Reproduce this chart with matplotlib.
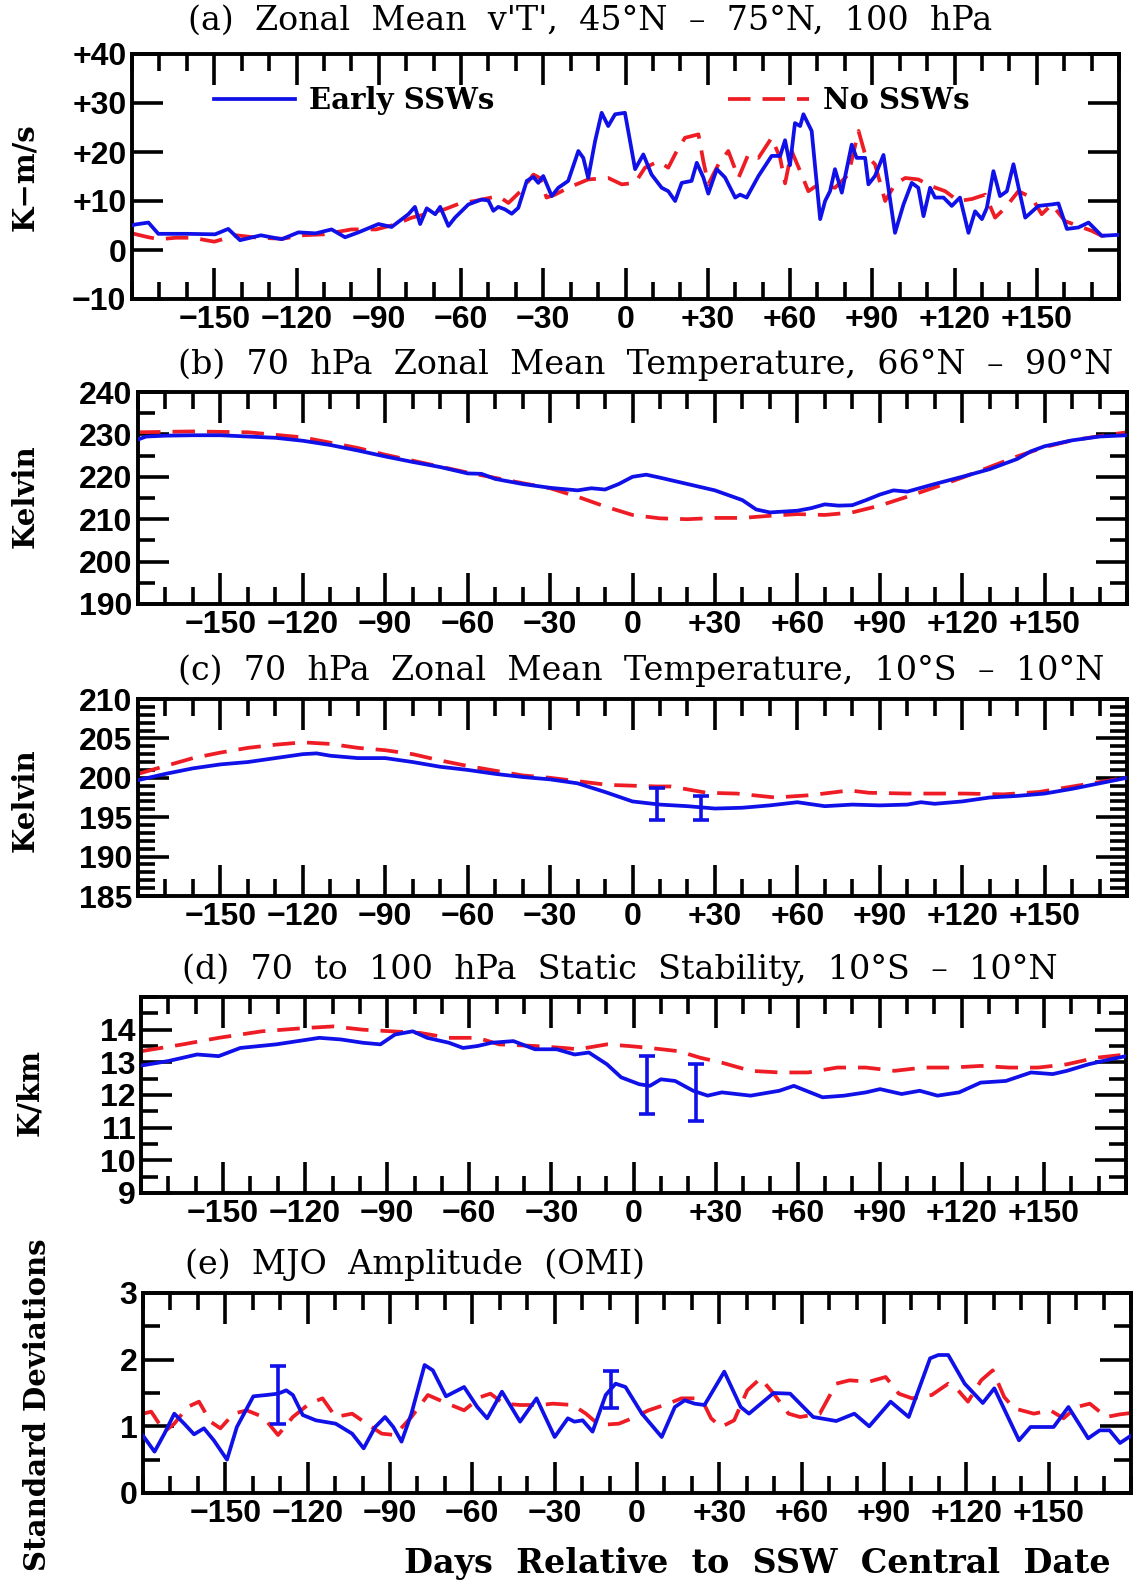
import matplotlib
matplotlib.use("Agg")
import matplotlib.pyplot as plt
from matplotlib.ticker import MultipleLocator

W, H = 1146, 1587
BLUE = '#1010e8'
RED = '#ee1c24'

# (a) zonal mean v'T', 45N-75N, 100 hPa
a_blue_day = [-180, -178.9, -174, -170.4, -160, -149.7, -144.9, -140.6, -133, -125.4, -119.3, -113, -107.2,
              -102.3, -97.4, -90.1, -85.3, -79.2, -76.8, -74.9, -72.5, -69.4, -67.6, -64.6, -62.2, -57.3,
              -52.5, -50, -48.2, -46.4, -44, -41.5, -39.1, -36, -33.6, -31.8, -30, -26.9, -24.5, -20.9,
              -17.2, -15.4, -13.6, -11.1, -8.7, -6.3, -3.8, -0.2, 3.5, 6.5, 9.5, 13.2, 15.6, 18.1, 20.5,
              24.1, 26, 28.4, 30.2, 33.3, 36.3, 40, 41.8, 44.2, 48.5, 53.3, 56.4, 58.2, 60, 61.8, 63.7,
              64.9, 67.9, 71, 72.8, 74.6, 76.4, 78.9, 82.5, 84.3, 87.4, 88.6, 91, 94.1, 98.3, 101.4,
              104.4, 106.8, 108.7, 111.1, 112.9, 116, 119, 122, 125.1, 127.5, 130, 131.8, 134.2, 136.6,
              139.1, 141.5, 145.8, 150.6, 155.5, 157.9, 161, 165.2, 168.9, 173.7, 180]
a_blue = [5.0, 5.2, 5.6, 3.3, 3.3, 3.2, 4.3, 2.0, 3.0, 2.2, 3.6, 3.4, 4.2,
          2.6, 3.6, 5.3, 4.7, 7.3, 8.8, 5.3, 8.5, 7.3, 8.8, 4.9, 6.6, 9.3,
          10.3, 10.1, 8.0, 8.8, 8.3, 7.4, 8.6, 14.1, 14.9, 13.7, 15.1, 11.0, 12.7, 14.1,
          20.2, 18.8, 14.7, 22.2, 28.0, 25.3, 27.7, 28.0, 16.5, 19.5, 15.4, 12.7, 12.0, 10.0, 13.7,
          14.1, 17.8, 14.8, 11.5, 16.5, 14.8, 10.7, 11.3, 10.7, 15.1, 19.2, 19.2, 22.4, 17.3, 25.9, 25.3,
          27.7, 24.3, 6.3, 10.0, 12.0, 16.5, 11.7, 21.5, 18.8, 18.8, 13.4, 15.1, 19.4, 3.5, 9.3,
          13.7, 12.7, 6.9, 12.7, 10.7, 10.7, 9.0, 10.7, 3.5, 7.9, 6.3, 8.6, 16.1, 11.0,
          12.0, 17.5, 6.6, 9.0, 9.3, 9.5, 4.3, 4.6, 5.6, 2.9, 3.1]
a_red_day = [-180, -174, -170, -164, -158, -150, -142, -134, -125, -118, -110, -100, -91, -84, -78, -73,
             -66, -60, -55, -46.4, -42.7, -37.9, -33.6, -31.2, -28.8, -25.7, -20.9, -13.6, -6.3, -1.4,
             3.5, 7.1, 12, 15.6, 18.7, 21.7, 26.6, 28.4, 30.2, 33.9, 37.5, 41.2, 44.8, 48.5, 53.3, 56.4,
             58.2, 60.6, 63.7, 66.7, 70.4, 76.4, 81.3, 85, 87.4, 91, 94.7, 98.3, 102, 106.8, 111.7,
             116.6, 121.4, 126.3, 131.2, 134.8, 138.5, 143.3, 148.2, 151.8, 155.5, 160.3, 165.2, 170.1,
             173.7, 180]
a_red = [3.4, 2.6, 2.2, 2.5, 2.5, 1.7, 3.0, 2.5, 2.3, 3.0, 3.2, 4.2, 4.2, 5.2, 6.6, 7.3,
         8.3, 9.6, 10.0, 11.0, 9.6, 12.2, 15.4, 14.7, 10.7, 11.3, 12.7, 14.4, 14.7, 13.4,
         13.7, 16.8, 18.1, 16.8, 20.2, 22.9, 23.6, 18.1, 13.4, 17.5, 20.2, 14.7, 19.5, 18.8, 22.9, 18.8,
         13.6, 20.2, 16.1, 12.0, 13.4, 12.7, 15.4, 24.3, 19.5, 17.5, 10.0, 13.4, 14.7, 14.4, 13.0,
         12.0, 10.0, 10.4, 11.3, 6.6, 8.6, 12.0, 10.7, 7.3, 9.3, 5.9, 4.9, 3.9,
         2.9, 3.1]

# (b) 70 hPa zonal mean temperature, 66N-90N
b_blue_day = [-180, -177, -170, -160, -150, -140, -130, -120, -110, -100, -90, -80, -70, -60, -55, -50,
              -40, -30, -20, -15, -10, -5, 0, 5, 10, 20, 30, 40, 45, 50, 60, 65, 70, 75, 80, 85, 90,
              95, 100, 110, 120, 130, 140, 145, 150, 160, 170, 180]
b_blue = [228.8, 229.5, 229.7, 229.8, 229.8, 229.5, 229.2, 228.5, 227.5, 226.2, 224.8, 223.5, 222.3,
          220.8, 220.7, 219.5, 218.3, 217.4, 216.8, 217.3, 217.0, 218.3, 220.0, 220.5, 219.8, 218.3,
          216.8, 214.5, 212.3, 211.6, 212.0, 212.6, 213.5, 213.2, 213.3, 214.5, 215.8, 216.8, 216.5,
          218.3, 220.0, 221.8, 224.2, 226.0, 227.2, 228.6, 229.5, 229.8]
b_red_day = [-180, -160, -140, -120, -100, -90, -80, -60, -40, -30, -20, -10, 0, 10, 20, 30, 40, 50,
             60, 70, 80, 90, 100, 110, 120, 130, 140, 150, 160, 170, 180]
b_red = [230.5, 230.7, 230.5, 229.3, 226.8, 225.2, 223.8, 221.0, 218.5, 217.3, 215.3, 213.0, 211.0,
         210.2, 210.0, 210.3, 210.3, 210.8, 211.2, 211.0, 211.6, 213.2, 215.3, 217.5, 219.8, 222.3,
         224.8, 227.0, 228.6, 229.6, 230.5]

# (c) 70 hPa zonal mean temperature, 10S-10N
c_blue_day = [-180, -170, -160, -150, -140, -130, -120, -115, -110, -100, -90, -80, -70, -60, -50, -40,
              -30, -20, -10, 0, 10, 20, 30, 40, 50, 60, 70, 80, 90, 100, 105, 110, 120, 130, 140, 150,
              160, 170, 180]
c_blue = [199.7, 200.5, 201.2, 201.7, 202.0, 202.5, 203.0, 203.1, 202.8, 202.5, 202.5, 202.0, 201.4,
          201.0, 200.5, 200.1, 199.8, 199.3, 198.2, 197.0, 196.6, 196.4, 196.1, 196.2, 196.5, 196.9,
          196.4, 196.6, 196.5, 196.6, 196.9, 196.7, 197.0, 197.5, 197.7, 198.0, 198.6, 199.3, 200.0]
c_red_day = [-180, -170, -160, -150, -140, -130, -120, -110, -100, -90, -80, -70, -60, -50, -40, -30,
             -9, 9, 14, 27, 38, 52, 65, 79, 86, 100, 121, 135, 148, 162, 176, 180]
c_red = [200.5, 201.5, 202.5, 203.2, 203.8, 204.2, 204.5, 204.3, 203.8, 203.5, 203.0, 202.2, 201.5,
         200.9, 200.3, 200.0, 199.1, 198.9, 198.9, 198.1, 198.0, 197.5, 197.8, 198.4, 198.1, 198.0,
         198.0, 197.9, 198.2, 199.0, 199.8, 200.0]
c_err_day = [9, 25]
c_err_mid = [196.7, 196.2]
c_err_half = [2.0, 1.5]

# (d) 70 to 100 hPa static stability, 10S-10N
d_blue_day = [-180, -170, -159.5, -151.6, -143.7, -130.6, -122.7, -114.8, -106.9, -99, -92.5, -87.2,
              -80.7, -75.4, -67.5, -62.3, -57, -51.8, -43.9, -36, -28.1, -21.5, -16.3, -9.7, -4.5, 2.1,
              6, 10, 15.2, 21.8, 27.1, 32.3, 42.8, 53.3, 58.6, 69.1, 77, 84.9, 90.1, 98, 104.6, 111.1,
              119, 126.9, 136.1, 145.3, 153.2, 158.4, 166.3, 174.2, 180]
d_blue = [12.9, 13.04, 13.24, 13.19, 13.44, 13.55, 13.65, 13.75, 13.70, 13.6, 13.55, 13.85,
          13.95, 13.75, 13.6, 13.44, 13.5, 13.6, 13.65, 13.4, 13.4, 13.24, 13.3, 12.94, 12.54, 12.33,
          12.28, 12.48, 12.43, 12.13, 11.98, 12.08, 11.98, 12.13, 12.28, 11.93, 11.98, 12.08, 12.18,
          12.03, 12.13, 11.98, 12.08, 12.38, 12.43, 12.69, 12.64, 12.74, 12.94, 13.09, 13.19]
d_red_day = [-180, -164.7, -151.6, -135.8, -120, -109.6, -99, -88.5, -78, -67.5, -57, -49.1, -36,
             -25.5, -20.2, -9.7, -1.8, 6, 16.6, 24.4, 32.3, 42.8, 53.3, 63.8, 74.4, 84.9, 95.4, 105.9,
             116.4, 126.9, 137.4, 147.9, 158.4, 169, 180]
d_red = [13.34, 13.55, 13.75, 13.95, 14.05, 14.1, 14.0, 13.95, 13.9, 13.75, 13.75, 13.55, 13.5,
         13.44, 13.4, 13.55, 13.5, 13.44, 13.34, 13.14, 12.99, 12.74, 12.69, 12.69, 12.84, 12.84,
         12.74, 12.84, 12.84, 12.89, 12.84, 12.84, 12.94, 13.14, 13.24]
d_err_day = [5, 23]
d_err_mid = [12.3, 12.08]
d_err_half = [0.88, 0.88]

# (e) MJO amplitude (OMI)
e_blue_day = [-180, -175.8, -172.2, -168.6, -165, -161.4, -157.8, -154.2, -149.4, -145.8, -139.8, -135,
              -130.8, -127.8, -125.4, -121.8, -117, -109.8, -103.8, -99.6, -95.4, -91.8, -88.8, -85.8,
              -82.2, -77.4, -74.4, -69.6, -63, -58.2, -54.6, -49.2, -42.6, -36.6, -30, -25.2, -22.8,
              -19.8, -16.2, -11.4, -7.8, -4.2, 1.8, 9, 13.8, 17.4, 21, 24.6, 31.8, 37.8, 40.8, 49.8,
              55.8, 64.2, 72.6, 79.2, 84.6, 92.4, 99, 106.8, 109.8, 113.4, 119.4, 126, 130.2, 139.2,
              143.4, 151.8, 157.2, 164.4, 168.6, 172.2, 176, 180]
e_blue = [0.86, 0.62, 0.89, 1.19, 1.04, 0.88, 0.97, 0.79, 0.50, 0.99, 1.45, 1.47,
          1.49, 1.54, 1.47, 1.17, 1.09, 1.04, 0.89, 0.67, 0.99, 1.14, 0.99, 0.77,
          1.19, 1.92, 1.84, 1.45, 1.59, 1.29, 1.12, 1.52, 1.07, 1.42, 0.84, 1.12, 1.07,
          1.09, 0.92, 1.47, 1.64, 1.59, 1.19, 0.84, 1.29, 1.39, 1.34, 1.32, 1.82, 1.29, 1.19, 1.50,
          1.49, 1.14, 1.08, 1.19, 1.00, 1.37, 1.14, 2.02, 2.07, 2.07, 1.64, 1.35, 1.57, 0.79,
          0.99, 0.99, 1.29, 0.82, 0.94, 0.94, 0.75, 0.86]
e_red_day = [-180, -177, -172.2, -168.6, -163.8, -159.6, -155.4, -151.8, -147, -142.2, -136.2, -130.8,
             -125.4, -119.4, -114.6, -109.8, -103.8, -97.8, -93, -88.2, -82.2, -76.2, -69, -63, -57,
             -53.4, -48.6, -42.6, -35.4, -30.6, -23.4, -18.6, -13.8, -6.6, -3, 4.2, 11.4, 16.2, 23.4,
             27, 30.6, 35.4, 40.2, 45, 49.8, 55.2, 59.4, 66.6, 72.6, 77.4, 84.6, 90.6, 95.4, 100.2,
             107.4, 113.4, 117, 120.6, 125.4, 129.6, 133.8, 137.4, 144.6, 150.6, 155.4, 160.2, 165,
             171, 176, 180]
e_red = [1.19, 1.22, 0.92, 1.04, 1.29, 1.37, 1.07, 0.97, 1.19, 1.24, 1.14, 0.87,
         1.14, 1.34, 1.42, 1.14, 1.19, 1.02, 0.89, 0.87, 1.14, 1.47, 1.34, 1.24, 1.44,
         1.49, 1.34, 1.32, 1.32, 1.34, 1.32, 1.19, 1.02, 1.04, 1.10, 1.24, 1.34, 1.42, 1.42,
         1.12, 0.99, 1.09, 1.54, 1.72, 1.49, 1.19, 1.14, 1.19, 1.64, 1.69, 1.67, 1.74, 1.49, 1.42,
         1.47, 1.64, 1.54, 1.37, 1.69, 1.84, 1.44, 1.27, 1.19, 1.24, 1.12, 1.29, 1.34,
         1.14, 1.18, 1.2]
e_err_day = [-130.8, -9.6]
e_err_mid = [1.47, 1.55]
e_err_half = [0.44, 0.28]

TICKFONT = dict(family='Liberation Sans', weight='bold', size=23)
SERIF = 'DejaVu Serif'


def box(l, r, t, b):
    return [l / W, 1 - b / H, (r - l) / W, (b - t) / H]


def day_label(v):
    if v == 0:
        return '0'
    return f'+{v}' if v > 0 else f'\u2212{abs(v)}'


def y_label(v, plus=False):
    if v < 0:
        return f'\u2212{abs(v):g}'
    if plus and v > 0:
        return f'+{v:g}'
    return f'{v:g}'


def setup(ax, ylim, yticks, yminor, plus=False):
    ax.set_xlim(-180, 180)
    ax.set_ylim(*ylim)
    xt = list(range(-150, 151, 30))
    ax.set_xticks(xt)
    ax.set_xticklabels([day_label(v) for v in xt], fontdict=TICKFONT)
    ax.xaxis.set_minor_locator(MultipleLocator(10))
    ax.set_yticks(yticks)
    ax.set_yticklabels([y_label(v, plus) for v in yticks], fontdict=TICKFONT)
    if yminor:
        ax.yaxis.set_minor_locator(MultipleLocator(yminor))
    ax.tick_params(which='major', direction='in', length=22, width=2.6, top=True, right=True, pad=4)
    ax.tick_params(which='minor', direction='in', length=12, width=2.6, top=True, right=True)
    for s in ax.spines.values():
        s.set_linewidth(2.8)


def draw(ax, bd, bv, rd, rv, err=None):
    lb, = ax.plot(bd, bv, color=BLUE, lw=2.7, zorder=3)
    lr, = ax.plot(rd, rv, color=RED, lw=2.7, dashes=(6, 3.2), zorder=2)
    if err is not None:
        ed, em, eh = err
        ax.errorbar(ed, em, yerr=eh, fmt='none', ecolor=BLUE, elinewidth=2.6, capsize=6,
                    capthick=2.6, zorder=4)
    return lb, lr


fig = plt.figure(figsize=(W / 100, H / 100), dpi=100)

axa = fig.add_axes(box(132, 1119, 54, 299))
lb, lr = draw(axa, a_blue_day, a_blue, a_red_day, a_red)
setup(axa, (-10, 40), list(range(-10, 41, 10)), None, plus=True)
leg = axa.legend([lb, lr], ['Early SSWs', 'No SSWs'], ncol=2, loc='center left',
                 bbox_to_anchor=(0.083, 0.81), frameon=False, handlelength=2.77,
                 handletextpad=0.5, columnspacing=8.0, borderpad=0, borderaxespad=0,
                 prop=dict(family=SERIF, weight='bold', size=21))

axb = fig.add_axes(box(138, 1127, 392, 604))
draw(axb, b_blue_day, b_blue, b_red_day, b_red)
setup(axb, (190, 240), list(range(190, 241, 10)), 5)

axc = fig.add_axes(box(138, 1127, 699, 896))
draw(axc, c_blue_day, c_blue, c_red_day, c_red, (c_err_day, c_err_mid, c_err_half))
setup(axc, (185, 210), list(range(185, 211, 5)), 1)

axd = fig.add_axes(box(141, 1126, 997, 1193))
draw(axd, d_blue_day, d_blue, d_red_day, d_red, (d_err_day, d_err_mid, d_err_half))
setup(axd, (9, 15), list(range(9, 15)), 0.5)

axe = fig.add_axes(box(143, 1131, 1293, 1493))
draw(axe, e_blue_day, e_blue, e_red_day, e_red, (e_err_day, e_err_mid, e_err_half))
setup(axe, (0, 3), [0, 1, 2, 3], 0.5)

titles = [
    (21, 188, "(a)  Zonal  Mean  v'T',  45\u00b0N  \u2013  75\u00b0N,  100  hPa"),
    (365, 178, "(b)  70  hPa  Zonal  Mean  Temperature,  66\u00b0N  \u2013  90\u00b0N"),
    (671, 178, "(c)  70  hPa  Zonal  Mean  Temperature,  10\u00b0S  \u2013  10\u00b0N"),
    (970, 182, "(d)  70  to  100  hPa  Static  Stability,  10\u00b0S  \u2013  10\u00b0N"),
    (1265, 185, "(e)  MJO  Amplitude  (OMI)"),
]
for y, x, t in titles:
    fig.text(x / W, 1 - y / H, t, ha='left', va='center', family=SERIF, size=24)

ylabels = [(25, 177, 'K\u2212m/s'), (25, 496, 'Kelvin'), (25, 800, 'Kelvin'), (30, 1093, 'K/km'),
           (38, 1405, 'Standard Deviations')]
for x, y, t in ylabels:
    fig.text(x / W, 1 - y / H, t, rotation=90, ha='center', va='center', family=SERIF,
             weight='bold', size=21)

fig.text(757 / W, 1 - 1564 / H, 'Days  Relative  to  SSW  Central  Date', ha='center', va='center',
         family=SERIF, weight='bold', size=24)

fig.savefig('out.png', dpi=100, facecolor='white')
